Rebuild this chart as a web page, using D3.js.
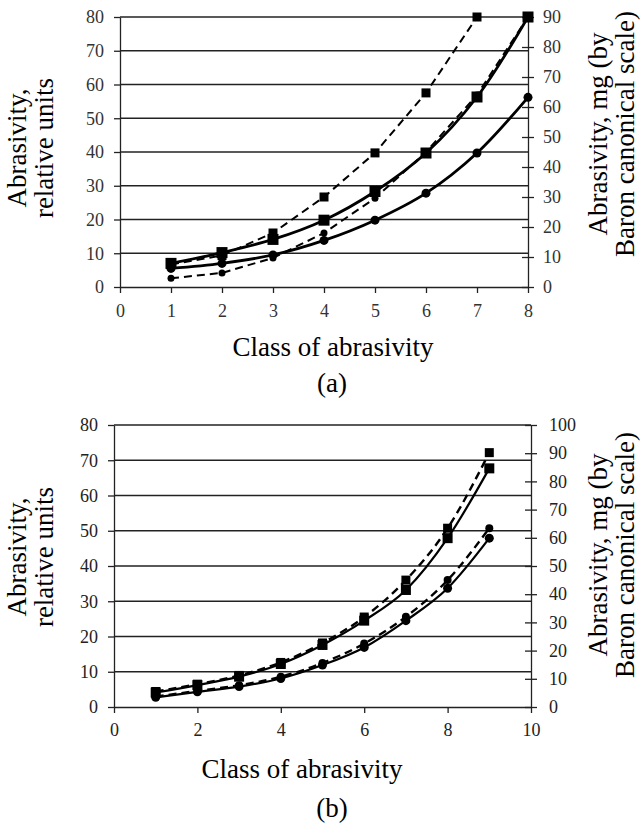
<!DOCTYPE html>
<html lang="en">
<head>
    <meta charset="UTF-8">
    <title>Abrasivity vs class</title>
    <script src="https://d3js.org/d3.v7.min.js"></script>
    <style>
        body { margin: 0; background: #fff; }
        svg text { font-family: "Liberation Serif", "Times New Roman", serif; }
        .domain, .tick line { stroke: #222; stroke-width: 1.3; }
    </style>
</head>
<body>
<script>
    // ---- chart (a) data: solid = relative units (left axis), dashed = mg (right axis)
    const classesA = [1, 2, 3, 4, 5, 6, 7, 8];
    const aSolidSquare = [7, 10.2, 14.1, 19.8, 28.3, 39.7, 56.3, 80];
    const aSolidCircle = [5.5, 7, 9.5, 13.8, 19.8, 27.8, 39.7, 56.2];
    const aDashSquare = [7.5, 10.5, 18, 30, 44.7, 64.7, 90];
    const aDashCircle = [2.9, 4.7, 9.7, 18, 29.6, 45, 64, 90];

    // ---- chart (b) data
    const classesB = [1, 2, 3, 4, 5, 6, 7, 8, 9];
    const bSolidSquare = [4.1, 6.2, 8.6, 12.2, 17.6, 24.5, 33.2, 47.9, 67.7];
    const bSolidCircle = [2.75, 4.3, 5.8, 8.1, 11.9, 16.9, 24.5, 33.7, 47.9];
    const bDashSquare = [5.5, 8.1, 11.2, 15.8, 22.7, 31.9, 45, 63.4, 90.2];
    const bDashCircle = [3.7, 5.7, 7.7, 10.7, 15.6, 22.5, 32, 45, 63.4];

    const svg = d3.select('body').append('svg')
        .attr('width', 643)
        .attr('height', 827);

    function drawChart(cfg) {
        const g = svg.append('g');
        const x = d3.scaleLinear().domain(cfg.xDomain).range([cfg.left, cfg.right]);
        const yL = d3.scaleLinear().domain([0, 80]).range([cfg.bottom, cfg.top]);
        const yR = d3.scaleLinear().domain([0, cfg.rightMax]).range([cfg.bottom, cfg.top]);

        // horizontal grid from left axis
        g.selectAll('.grid').data(yL.ticks(8).filter(d => d > 0))
            .enter().append('line')
            .attr('x1', cfg.left).attr('x2', cfg.right)
            .attr('y1', d => yL(d)).attr('y2', d => yL(d))
            .attr('stroke', '#222').attr('stroke-width', 1.3);

        g.append('g').attr('transform', `translate(0,${cfg.bottom})`)
            .call(d3.axisBottom(x).ticks(cfg.xTicks).tickSize(6).tickSizeOuter(0).tickPadding(cfg.padX));
        g.append('g').attr('transform', `translate(${cfg.left},0)`)
            .call(d3.axisLeft(yL).ticks(8).tickSize(6).tickSizeOuter(0).tickPadding(cfg.padL));
        const ra = g.append('g').attr('transform', `translate(${cfg.right},0)`)
            .call(d3.axisRight(yR).ticks(cfg.rightMax / 10).tickSize(6).tickSizeOuter(0).tickPadding(cfg.padR));
        ra.selectAll('.tick line').attr('x1', -6);
        g.selectAll('.tick text')
            .attr('font-family', '"Liberation Serif", serif')
            .attr('font-size', cfg.tickFont)
            .attr('fill', cfg.tickColor);

        // series
        cfg.series.forEach(s => {
            const yS = s.axis === 'right' ? yR : yL;
            const pts = s.values.map((v, i) => [x(cfg.classes[i]), yS(v)]);
            g.append('path')
                .attr('d', d3.line().curve(s.curve)(pts))
                .attr('fill', 'none')
                .attr('stroke', '#000')
                .attr('stroke-width', s.width)
                .attr('stroke-dasharray', s.dash ? '8,5' : null);
            if (s.marker === 'square') {
                g.selectAll(null).data(pts).enter().append('rect')
                    .attr('x', p => p[0] - s.size / 2).attr('y', p => p[1] - s.size / 2)
                    .attr('width', s.size).attr('height', s.size).attr('fill', '#000');
            } else {
                g.selectAll(null).data(pts).enter().append('circle')
                    .attr('cx', p => p[0]).attr('cy', p => p[1])
                    .attr('r', s.size / 2).attr('fill', '#000');
            }
        });

        // titles
        const lt = g.append('text')
            .attr('transform', `translate(${cfg.leftTitleX},${cfg.leftTitleY}) rotate(-90)`)
            .attr('text-anchor', 'middle').attr('font-size', cfg.titleFont);
        lt.append('tspan').attr('x', 0).attr('dy', 0).text('Abrasivity,');
        lt.append('tspan').attr('x', 0).attr('dy', '1.0em').text('relative units');

        const rt = g.append('text')
            .attr('transform', `translate(${cfg.rightTitleX},${cfg.rightTitleY}) rotate(-90)`)
            .attr('text-anchor', 'middle').attr('font-size', cfg.titleFont);
        rt.append('tspan').attr('x', 0).attr('dy', 0).text('Abrasivity, mg (by');
        rt.append('tspan').attr('x', 0).attr('dy', '1.0em').text('Baron canonical scale)');

        g.append('text').attr('x', cfg.xTitleX).attr('y', cfg.xTitleY)
            .attr('text-anchor', 'middle').attr('font-size', cfg.titleFont)
            .text('Class of abrasivity');
        g.append('text').attr('x', cfg.labelX).attr('y', cfg.labelY)
            .attr('text-anchor', 'middle').attr('font-size', cfg.titleFont)
            .text(cfg.label);
    }

    drawChart({
        classes: classesA, xDomain: [0, 8], xTicks: 8, rightMax: 90,
        left: 120, right: 528, top: 17, bottom: 287,
        tickFont: 18, tickColor: '#333', titleFont: 27, padX: 11, padL: 10, padR: 9,
        leftTitleX: 26, leftTitleY: 148, rightTitleX: 607, rightTitleY: 134,
        xTitleX: 333, xTitleY: 356, labelX: 332, labelY: 392, label: '(a)',
        series: [
            { values: aDashSquare, axis: 'right', dash: true, width: 2, marker: 'square', size: 9, curve: d3.curveLinear },
            { values: aDashCircle, axis: 'right', dash: true, width: 2, marker: 'circle', size: 7, curve: d3.curveLinear },
            { values: aSolidSquare, axis: 'left', dash: false, width: 2.8, marker: 'square', size: 11, curve: d3.curveCatmullRom },
            { values: aSolidCircle, axis: 'left', dash: false, width: 2.8, marker: 'circle', size: 9, curve: d3.curveCatmullRom }
        ]
    });

    drawChart({
        classes: classesB, xDomain: [0, 10], xTicks: 5, rightMax: 100,
        left: 114, right: 531, top: 425, bottom: 707,
        tickFont: 18, tickColor: '#222', titleFont: 27, padX: 10, padL: 10, padR: 12,
        leftTitleX: 26, leftTitleY: 557, rightTitleX: 607, rightTitleY: 555,
        xTitleX: 302, xTitleY: 778, labelX: 332, labelY: 817, label: '(b)',
        series: [
            { values: bDashSquare, axis: 'right', dash: true, width: 2.4, marker: 'square', size: 9, curve: d3.curveMonotoneX },
            { values: bDashCircle, axis: 'right', dash: true, width: 2.4, marker: 'circle', size: 8, curve: d3.curveMonotoneX },
            { values: bSolidSquare, axis: 'left', dash: false, width: 2.2, marker: 'square', size: 10, curve: d3.curveMonotoneX },
            { values: bSolidCircle, axis: 'left', dash: false, width: 2.2, marker: 'circle', size: 9, curve: d3.curveMonotoneX }
        ]
    });
</script>
</body>
</html>
